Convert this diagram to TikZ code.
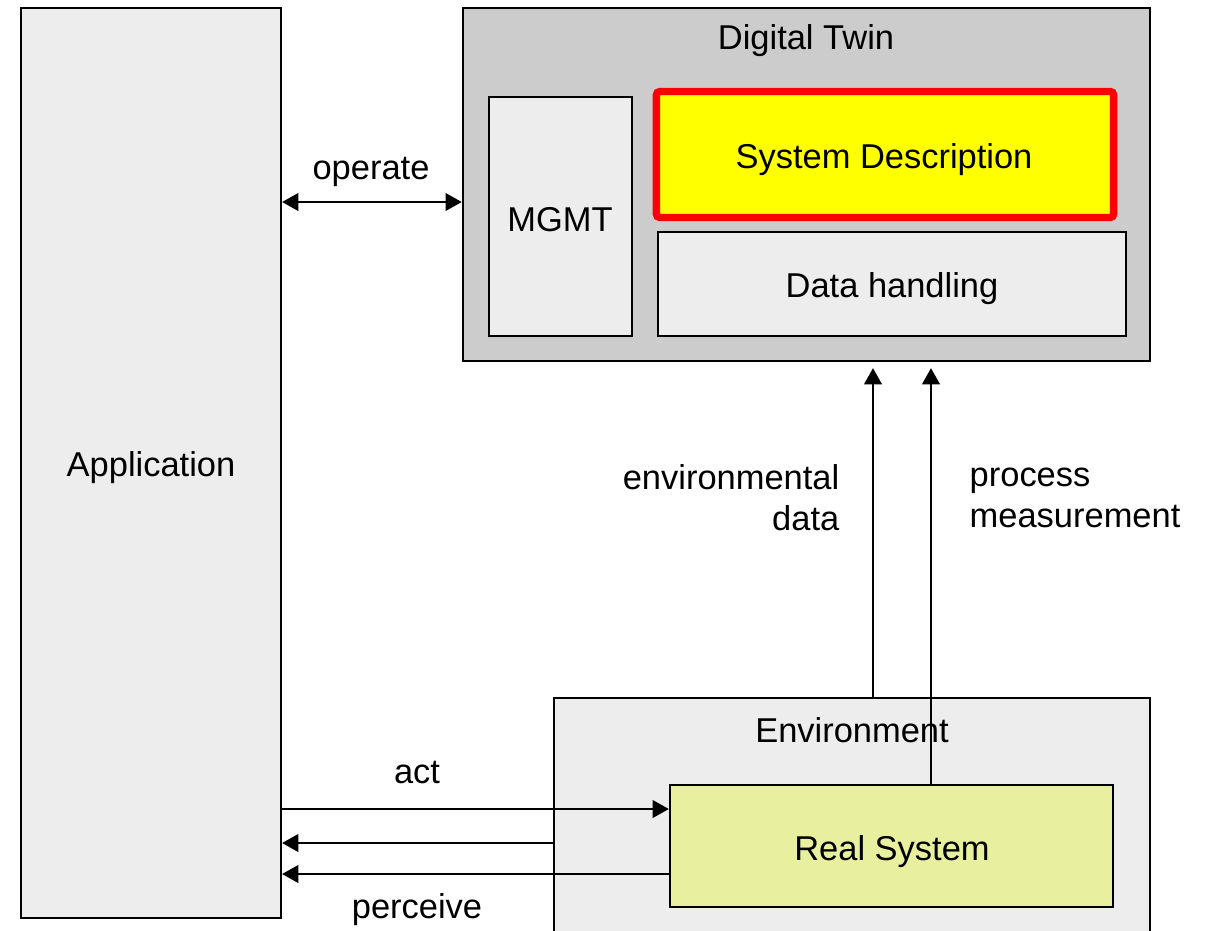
\documentclass[tikz,border=0pt]{standalone}
\usepackage{fontspec}
\setmainfont{Liberation Sans}
\usetikzlibrary{arrows.meta}
\definecolor{lightbox}{HTML}{EDEDED}
\definecolor{dtgray}{HTML}{CCCCCC}
\definecolor{realfill}{HTML}{E8F0A0}
\definecolor{sdyellow}{HTML}{FFFF00}
\definecolor{sdred}{HTML}{FF0000}
\begin{document}
\begin{tikzpicture}[x=0.01cm,y=-0.01cm,
  font=\fontsize{9.8pt}{11.7pt}\selectfont,
  box/.style={draw=black, line width=0.6pt, inner sep=0pt},
  lbl/.style={inner sep=0pt},
  arr/.style={line width=0.6pt, -{Triangle[length=4.6pt,width=5pt]}},
  darr/.style={line width=0.6pt, {Triangle[length=4.6pt,width=5pt]}-{Triangle[length=4.6pt,width=5pt]}}
  ]
\clip (0,0) rectangle (1206,930);
\fill[white] (0,0) rectangle (1206,930);
% Application
\node[box, fill=lightbox, minimum width=2.60cm, minimum height=9.10cm] (app) at (151,463) {};
\node[lbl] (apptxt) at (151,468) {Application};
% Digital Twin
\node[box, fill=dtgray, minimum width=6.87cm, minimum height=3.53cm] (dt) at (806.5,184.5) {};
\node[lbl] (dttxt) at (806,41) {Digital Twin};
\node[box, fill=lightbox, minimum width=1.43cm, minimum height=2.39cm] (mgmt) at (560.5,216.5) {};
\node[lbl] (mgmttxt) at (560,220) {MGMT};
\node[draw=sdred, line width=2.1pt, rounded corners=1pt, fill=sdyellow, inner sep=0pt,
  minimum width=4.57cm, minimum height=1.26cm] (sd) at (885,154.5) {};
\node[lbl] (sdtxt) at (884,160) {System Description};
\node[box, fill=lightbox, minimum width=4.68cm, minimum height=1.04cm] (dh) at (892,284) {};
\node[lbl] (dhtxt) at (892,289) {Data handling};
% Environment
\node[box, fill=lightbox, minimum width=5.96cm, minimum height=2.80cm] (env) at (852,838) {};
\node[lbl] (envtxt) at (852,730) {Environment};
\node[box, fill=realfill, minimum width=4.43cm, minimum height=1.22cm] (real) at (891.5,846) {};
\node[lbl] (realtxt) at (892,852) {Real System};
% Arrows
\draw[darr] (app.east |- 0,202) -- (dt.west |- 0,202);
\node[lbl] (optxt) at (371,172) {operate};
\draw[arr, shorten >=1.7pt] (env.north -| 873,0) -- (dt.south -| 873,0);
\draw[arr, shorten >=1.7pt] (real.north -| 931,0) -- (dt.south -| 931,0);
\node[lbl, anchor=east, align=right] (envdata) at (840,498) {environmental\\data};
\node[lbl, anchor=west, align=left] (procmeas) at (969,498) {process\\measurement};
\draw[arr] (app.east |- 0,809) -- (real.west |- 0,809);
\node[lbl] (acttxt) at (417,773) {act};
\draw[arr] (env.west |- 0,843) -- (app.east |- 0,843);
\draw[arr] (real.west |- 0,874) -- (app.east |- 0,874);
\node[lbl] (perctxt) at (417,910) {perceive};
\end{tikzpicture}
\end{document}
